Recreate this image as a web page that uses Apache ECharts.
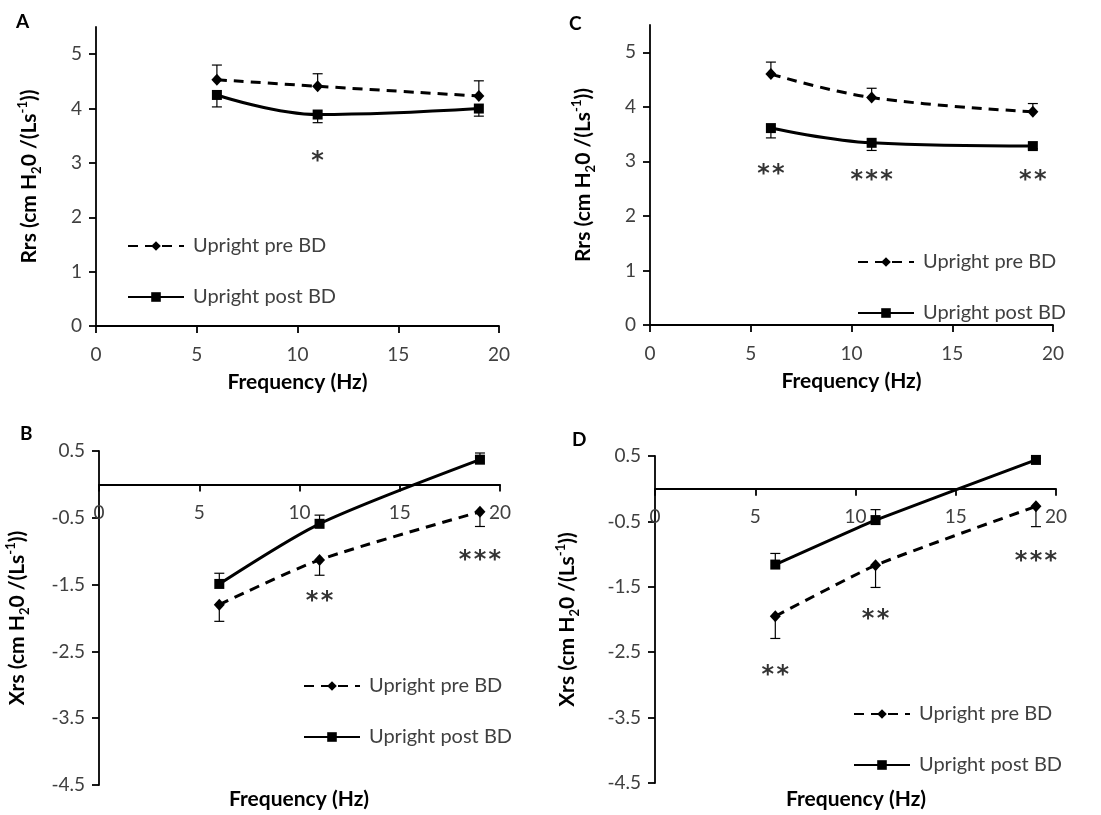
<!DOCTYPE html>
<html>
<head>
<meta charset="utf-8">
<script src="https://cdn.jsdelivr.net/npm/echarts@6/dist/echarts.min.js"></script>
<style>html,body{margin:0;padding:0;background:#fff;}#c{width:1101px;height:815px;}</style>
</head>
<body>
<div id="c"></div>
<script>
// ---- data ----
const freq = [6, 11, 19];
const seriesNames = ['Upright pre BD', 'Upright post BD'];
const xTicks = [0, 5, 10, 15, 20];
const rrsTicks = [0, 1, 2, 3, 4, 5];
const xrsTicks = [-4.5, -3.5, -2.5, -1.5, -0.5, 0.5];
const rrsRange = [0, 5.5];
const xrsRange = [-4.5, 0.5];

// Panel A (Rrs)
const aPre = [4.53, 4.41, 4.23];
const aPreErr = [0.27, 0.23, 0.28];
const aPost = [4.25, 3.89, 4.00];
const aPostErr = [0.22, 0.15, 0.14];
const aStars = [[11, 3.14, '*']];

// Panel C (Rrs)
const cPre = [4.60, 4.17, 3.91];
const cPreErr = [0.22, 0.17, 0.15];
const cPost = [3.61, 3.34, 3.28];
const cPostErr = [0.18, 0.14, 0.05];
const cStars = [[6, 2.87, '**'], [11, 2.76, '***'], [19, 2.76, '**']];

// Panel B (Xrs)
const bPre = [-1.80, -1.13, -0.41];
const bPreErr = [0.25, 0.23, 0.22];
const bPost = [-1.49, -0.59, 0.37];
const bPostErr = [0.16, 0.13, 0.10];
const bStars = [[11, -1.66, '**'], [19, -1.05, '***']];

// Panel D (Xrs)
const dPre = [-1.95, -1.17, -0.27];
const dPreErr = [0.34, 0.34, 0.31];
const dPost = [-1.16, -0.48, 0.44];
const dPostErr = [0.17, 0.16, 0.03];
const dStars = [[6, -2.77, '**'], [11, -1.91, '**'], [19, -1.02, '***']];

// ---- layout / styling ----
const FONT = 'Lato, "Open Sans", sans-serif';
const STARFONT = '"DejaVu Sans", sans-serif';
const GREY = '#404040';
const grids = [
  { left: 96, top: 27, width: 403, height: 299 },   // A
  { left: 650, top: 25, width: 403, height: 300 },  // C
  { left: 99, top: 451, width: 401, height: 334 },  // B
  { left: 655, top: 456, width: 401, height: 327 }  // D
];

function pairs(ys) { return freq.map((x, i) => [x, ys[i]]); }

function lineSeries(gi, name, ys, pre, smooth) {
  return {
    type: 'line', name: name, xAxisIndex: gi, yAxisIndex: gi,
    data: pairs(ys), smooth: smooth, z: 3,
    symbol: pre ? 'diamond' : 'rect',
    symbolSize: pre ? [11, 12] : 10,
    itemStyle: { color: '#000' },
    lineStyle: { color: '#000', width: 3, type: pre ? [10, 7] : 'solid' },
    emphasis: { disabled: true }
  };
}

function errSeries(gi, ys, errs, dir) {
  return {
    type: 'custom', xAxisIndex: gi, yAxisIndex: gi, silent: true, z: 2,
    data: freq.map((x, i) => [x, ys[i], errs[i]]),
    renderItem: function (params, api) {
      const x = api.value(0), y = api.value(1), e = api.value(2);
      const p0 = api.coord([x, y]);
      const p1 = api.coord([x, y + dir * e]);
      const w = 5;
      return {
        type: 'group', children: [
          { type: 'line', shape: { x1: p0[0], y1: p0[1], x2: p1[0], y2: p1[1] }, style: { stroke: '#000', lineWidth: 1.2 } },
          { type: 'line', shape: { x1: p1[0] - w, y1: p1[1], x2: p1[0] + w, y2: p1[1] }, style: { stroke: '#000', lineWidth: 1.2 } }
        ]
      };
    }
  };
}

function starSeries(gi, stars) {
  return {
    type: 'scatter', xAxisIndex: gi, yAxisIndex: gi, silent: true,
    symbolSize: 1, itemStyle: { color: 'rgba(0,0,0,0)' },
    data: stars.map(s => ({ value: [s[0], s[1]], name: s[2] })),
    label: {
      show: true, position: 'inside', offset: [0, 6],
      formatter: p => p.name.split('').join('\u200A'),
      fontSize: 24, fontWeight: 'bold', color: '#000', fontFamily: STARFONT
    }
  };
}

const yName = '{b|Rrs (cm H}{s|2}{b|0 /(Ls}{p|-1}{b|))}';
const xName = '{b|Xrs (cm H}{s|2}{b|0 /(Ls}{p|-1}{b|))}';
const nameRich = {
  b: { fontSize: 21, fontWeight: 'bold', fontFamily: FONT, color: '#000', lineHeight: 24 },
  s: { fontSize: 13, fontWeight: 'bold', fontFamily: FONT, color: '#000', lineHeight: 13, verticalAlign: 'bottom', padding: [0, 0, -2, 0] },
  p: { fontSize: 13, fontWeight: 'bold', fontFamily: FONT, color: '#000', lineHeight: 13, verticalAlign: 'top', padding: [-1, 0, 0, 0] }
};

function xAxisCfg(gi, withName, yRange) {
  const g = grids[gi];
  const ax = {
    type: 'value', gridIndex: gi, min: 0, max: 20, interval: 5, position: 'bottom',
    axisLine: { show: true, onZero: false, lineStyle: { color: '#000', width: 1.8 } },
    axisTick: { show: true, length: 7, lineStyle: { color: '#000', width: 1.8 }, customValues: xTicks },
    axisLabel: { fontSize: 19, color: GREY, fontFamily: FONT, margin: 19, customValues: xTicks },
    splitLine: { show: false }
  };
  if (yRange[0] < 0) {
    // place the x axis at y = 0, as in the original figure
    ax.offset = -g.height * (0 - yRange[0]) / (yRange[1] - yRange[0]);
  }
  if (withName) {
    ax.name = 'Frequency (Hz)';
    ax.nameLocation = 'middle';
    ax.nameGap = 46;
    ax.nameTextStyle = { fontSize: 21, fontWeight: 'bold', color: '#000', fontFamily: FONT };
  }
  return ax;
}

function yAxisCfg(gi, rrs, gap) {
  return {
    type: 'value', gridIndex: gi,
    min: rrs ? rrsRange[0] : xrsRange[0], max: rrs ? rrsRange[1] : xrsRange[1],
    axisLine: { show: true, onZero: false, lineStyle: { color: '#000', width: 1.8 } },
    axisTick: { show: true, length: 7, lineStyle: { color: '#000', width: 1.8 }, customValues: rrs ? rrsTicks : xrsTicks },
    axisLabel: { fontSize: 19, color: GREY, fontFamily: FONT, margin: 14, customValues: rrs ? rrsTicks : xrsTicks },
    splitLine: { show: false },
    name: rrs ? yName : xName,
    nameLocation: 'middle', nameGap: gap,
    nameTextStyle: { rich: nameRich }
  };
}

function legendCfg(left, top) {
  return {
    left: left, top: top, orient: 'vertical',
    itemWidth: 56, itemHeight: 12, itemGap: 31,
    data: seriesNames, selectedMode: false,
    textStyle: { fontSize: 20, color: GREY, fontFamily: FONT, padding: [0, 0, 0, 4] }
  };
}

const option = {
  animation: false,
  backgroundColor: '#fff',
  grid: grids,
  xAxis: [xAxisCfg(0, true, rrsRange), xAxisCfg(1, true, rrsRange), xAxisCfg(2, false, xrsRange), xAxisCfg(3, false, xrsRange)],
  yAxis: [yAxisCfg(0, true, 55), yAxisCfg(1, true, 55), yAxisCfg(2, false, 70), yAxisCfg(3, false, 76)],
  legend: [legendCfg(122, 231), legendCfg(852, 247), legendCfg(298, 671), legendCfg(848, 699)],
  graphic: [
    { type: 'text', left: 16, top: 12, style: { text: 'A', fontSize: 19, fontWeight: 'bold', fill: '#000', fontFamily: FONT } },
    { type: 'text', left: 569, top: 14, style: { text: 'C', fontSize: 19, fontWeight: 'bold', fill: '#000', fontFamily: FONT } },
    { type: 'text', left: 20, top: 424, style: { text: 'B', fontSize: 19, fontWeight: 'bold', fill: '#000', fontFamily: FONT } },
    { type: 'text', left: 572, top: 430, style: { text: 'D', fontSize: 19, fontWeight: 'bold', fill: '#000', fontFamily: FONT } },
    { type: 'text', left: 229, top: 789, style: { text: 'Frequency (Hz)', fontSize: 21, fontWeight: 'bold', fill: '#000', fontFamily: FONT } },
    { type: 'text', left: 786, top: 789, style: { text: 'Frequency (Hz)', fontSize: 21, fontWeight: 'bold', fill: '#000', fontFamily: FONT } }
  ],
  series: [
    errSeries(0, aPre, aPreErr, 1), errSeries(0, aPost, aPostErr, -1),
    lineSeries(0, seriesNames[0], aPre, true, 0.4), lineSeries(0, seriesNames[1], aPost, false, 0.4),
    starSeries(0, aStars),

    errSeries(1, cPre, cPreErr, 1), errSeries(1, cPost, cPostErr, -1),
    lineSeries(1, seriesNames[0], cPre, true, 0.4), lineSeries(1, seriesNames[1], cPost, false, 0.4),
    starSeries(1, cStars),

    errSeries(2, bPre, bPreErr, -1), errSeries(2, bPost, bPostErr, 1),
    lineSeries(2, seriesNames[0], bPre, true, 0.25), lineSeries(2, seriesNames[1], bPost, false, 0.25),
    starSeries(2, bStars),

    errSeries(3, dPre, dPreErr, -1), errSeries(3, dPost, dPostErr, 1),
    lineSeries(3, seriesNames[0], dPre, true, 0.15), lineSeries(3, seriesNames[1], dPost, false, 0.1),
    starSeries(3, dStars)
  ]
};

const chart = echarts.init(document.getElementById('c'), null, { renderer: 'canvas' });
chart.setOption(option);
</script>
</body>
</html>
